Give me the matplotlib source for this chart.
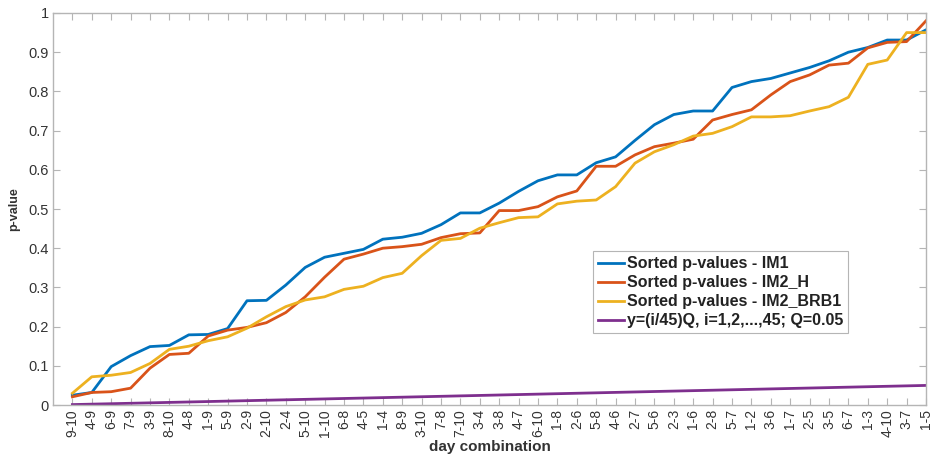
import matplotlib.pyplot as plt
import numpy as np

plt.rcParams['font.family'] = ['Liberation Sans', 'DejaVu Sans']

# day pairs, in order of increasing p-value
days = ['9-10', '4-9', '6-9', '7-9', '3-9', '8-10', '4-8', '1-9', '5-9', '2-9',
        '2-10', '2-4', '5-10', '1-10', '6-8', '4-5', '1-4', '8-9', '3-10', '7-8',
        '7-10', '3-4', '3-8', '4-7', '6-10', '1-8', '2-6', '5-8', '4-6', '2-7',
        '5-6', '2-3', '1-6', '2-8', '5-7', '1-2', '3-6', '1-7', '2-5', '3-5',
        '6-7', '1-3', '4-10', '3-7', '1-5']

p_im1 = [0.025, 0.032, 0.098, 0.126, 0.149, 0.152, 0.179, 0.180, 0.195, 0.266,
         0.267, 0.306, 0.351, 0.377, 0.387, 0.397, 0.423, 0.428, 0.438, 0.460,
         0.490, 0.490, 0.515, 0.545, 0.572, 0.587, 0.587, 0.618, 0.633, 0.675,
         0.715, 0.741, 0.750, 0.750, 0.810, 0.825, 0.833, 0.847, 0.861, 0.878,
         0.900, 0.912, 0.931, 0.931, 0.957]

p_im2_h = [0.021, 0.032, 0.034, 0.043, 0.094, 0.129, 0.132, 0.176, 0.191, 0.198,
           0.210, 0.236, 0.276, 0.326, 0.372, 0.385, 0.400, 0.404, 0.410, 0.427,
           0.437, 0.439, 0.496, 0.496, 0.506, 0.531, 0.546, 0.609, 0.609, 0.638,
           0.659, 0.668, 0.678, 0.727, 0.741, 0.753, 0.791, 0.825, 0.842, 0.867,
           0.872, 0.911, 0.925, 0.927, 0.980]

p_im2_brb1 = [0.030, 0.072, 0.076, 0.083, 0.106, 0.142, 0.150, 0.164, 0.174, 0.196,
              0.225, 0.251, 0.268, 0.276, 0.295, 0.303, 0.325, 0.336, 0.381, 0.420,
              0.425, 0.451, 0.465, 0.478, 0.480, 0.513, 0.520, 0.523, 0.557, 0.617,
              0.646, 0.664, 0.686, 0.693, 0.710, 0.735, 0.735, 0.738, 0.750, 0.761,
              0.785, 0.869, 0.880, 0.950, 0.950]

Q = 0.05
idx = np.arange(1, len(days) + 1)
bh_line = idx / len(days) * Q

fig = plt.figure(figsize=(9.33, 4.59), dpi=100)
ax = fig.add_axes([0.0568, 0.1176, 0.9357, 0.8541])

lw = 2.0
ax.plot(idx, p_im1, color='#0072BD', lw=lw, label='Sorted p-values - IM1')
ax.plot(idx, p_im2_h, color='#D95319', lw=lw, label='Sorted p-values - IM2_H')
ax.plot(idx, p_im2_brb1, color='#EDB120', lw=lw, label='Sorted p-values - IM2_BRB1')
ax.plot(idx, bh_line, color='#7E2F8E', lw=lw,
        label='y=(i/45)Q, i=1,2,...,45; Q=0.05')

ax.set_xlim(0, 45)
ax.set_ylim(0, 1)
ax.set_xticks(idx)
ax.set_xticklabels(days, rotation=90, fontsize=10)
ax.set_yticks(np.arange(0, 1.01, 0.1))
ax.set_yticklabels(['0', '0.1', '0.2', '0.3', '0.4', '0.5', '0.6', '0.7', '0.8', '0.9', '1'],
                   fontsize=10.5)

# MATLAB-like box with inward ticks on all sides
for s in ax.spines.values():
    s.set_color('#b5b5b5')
    s.set_linewidth(1.0)
ax.tick_params(direction='in', length=5, width=0.8, color='#b5b5b5',
               labelcolor='#333333', top=True, right=True, pad=3)

ax.set_xlabel('day combination', fontsize=11, fontweight='bold', color='#333333', labelpad=2)
ax.set_ylabel('p-value', fontsize=9, fontweight='bold', color='#333333', labelpad=6)

leg = ax.legend(loc='lower left', bbox_to_anchor=(0.619, 0.184),
                prop={'weight': 'bold', 'size': 11.5}, fancybox=False,
                edgecolor='#b5b5b5', framealpha=1, handlelength=1.6,
                handletextpad=0.2, labelspacing=0.25, borderpad=0.3,
                borderaxespad=0)
for t in leg.get_texts():
    t.set_color('#222222')
leg.get_frame().set_linewidth(0.8)

fig.savefig('out.png', dpi=100)
